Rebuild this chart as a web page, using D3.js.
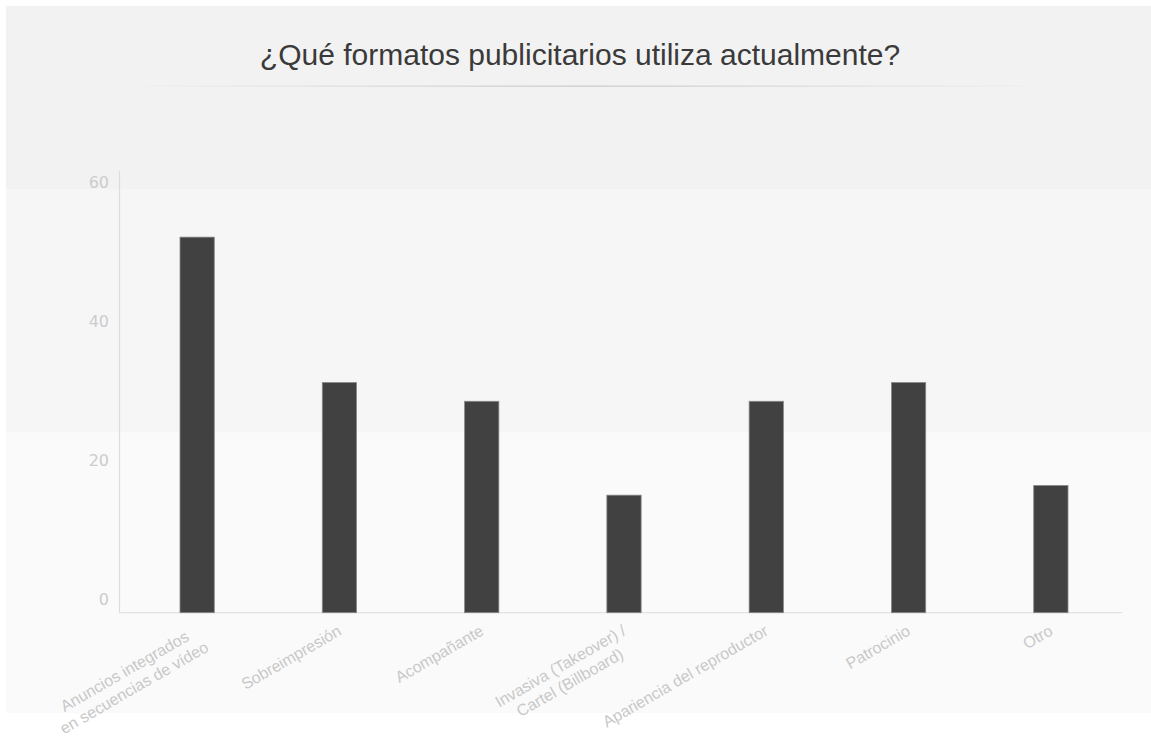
<!DOCTYPE html>
<html><head><meta charset="utf-8">
<script src="https://cdn.jsdelivr.net/npm/d3@7"></script>
<style>html,body{margin:0;padding:0;background:#fff;}svg{display:block;}</style>
</head><body>
<svg id="chart" width="1151" height="738"></svg>
<script>
const titleText = "¿Qué formatos publicitarios utiliza actualmente?";
const categories = [
  "Anuncios integrados\nen secuencias de vídeo",
  "Sobreimpresión",
  "Acompañante",
  "Invasiva (Takeover) /\nCartel (Billboard)",
  "Apariencia del reproductor",
  "Patrocinio",
  "Otro"
];
const values = [54, 33.1, 30.4, 16.9, 30.4, 33.1, 18.3];
const yTicks = [0, 20, 40, 60];

const svg = d3.select("#chart");
const W = 1151, H = 738;
const plotLeft = 119.5, plotRight = 1122, plotBottom = 612.7, y60 = 195.4;

// background panel with bands
const bg = svg.append("g");
bg.append("rect").attr("x", 6).attr("y", 6).attr("width", W - 6).attr("height", 183).attr("fill", "#f2f2f2");
bg.append("rect").attr("x", 6).attr("y", 189).attr("width", W - 6).attr("height", 243).attr("fill", "#f6f6f6");
bg.append("rect").attr("x", 6).attr("y", 432).attr("width", W - 6).attr("height", 281).attr("fill", "#fafafa");

// title
svg.append("text").attr("x", 580).attr("y", 65).attr("text-anchor", "middle")
  .attr("font-family", "'Liberation Sans', Arial, sans-serif").attr("font-size", 30)
  .attr("fill", "#3a3a3a").text(titleText);

const defs = svg.append("defs");
const grad = defs.append("linearGradient").attr("id", "tl").attr("x1", "0%").attr("x2", "100%");
grad.append("stop").attr("offset", "0%").attr("stop-color", "#cccccc").attr("stop-opacity", 0);
grad.append("stop").attr("offset", "50%").attr("stop-color", "#cccccc").attr("stop-opacity", 1);
grad.append("stop").attr("offset", "100%").attr("stop-color", "#cccccc").attr("stop-opacity", 0);
svg.append("rect").attr("x", 117).attr("y", 85.5).attr("width", 940).attr("height", 1.3).attr("fill", "url(#tl)");

const x = d3.scaleBand().domain(categories).range([126, 1122]).paddingInner(0.759).paddingOuter(0.3795);
const y = d3.scaleLinear().domain([0, 60]).range([plotBottom, y60]);

// axes lines
svg.append("line").attr("x1", plotLeft).attr("x2", plotLeft).attr("y1", 171).attr("y2", plotBottom)
  .attr("stroke", "#dcdcdc").attr("stroke-width", 1.2);
svg.append("line").attr("x1", plotLeft).attr("x2", plotRight).attr("y1", plotBottom).attr("y2", plotBottom)
  .attr("stroke", "#e2e2e2").attr("stroke-width", 1.2);

// y tick labels
const yAxis = d3.axisLeft(y).tickValues(yTicks).tickSize(0).tickPadding(0);
const gy = svg.append("g").attr("transform", `translate(109,0)`).call(yAxis);
gy.select(".domain").remove();
gy.selectAll("text").attr("font-family", "'DejaVu Sans', sans-serif").attr("font-size", 16)
  .attr("fill", "#cccccc").attr("dy", null).attr("y", -8).attr("x", 0).attr("text-anchor", "end");

// bars
svg.append("g").selectAll("rect").data(values).join("rect")
  .attr("x", (d, i) => x(categories[i]))
  .attr("width", x.bandwidth())
  .attr("y", d => y(d))
  .attr("height", d => y(0) - y(d))
  .attr("fill", "#414141").attr("stroke", "#8a8a8a").attr("stroke-width", 0.8);

// x labels
const lg = svg.append("g");
categories.forEach(c => {
  const cx = x(c) + x.bandwidth() / 2;
  const g = lg.append("g").attr("transform", `translate(${cx + 3},634) rotate(-30)`);
  const lines = c.split("\n");
  const ts = lines.map((l, i) => g.append("text").attr("y", i * 19)
    .attr("font-family", "'Liberation Sans', Arial, sans-serif").attr("font-size", 16)
    .attr("fill", "#c8c8c8").attr("text-anchor", "middle").text(l));
  const maxW = d3.max(ts, t => t.node().getComputedTextLength());
  ts.forEach(t => t.attr("x", -maxW / 2));
});
</script>
</body></html>
